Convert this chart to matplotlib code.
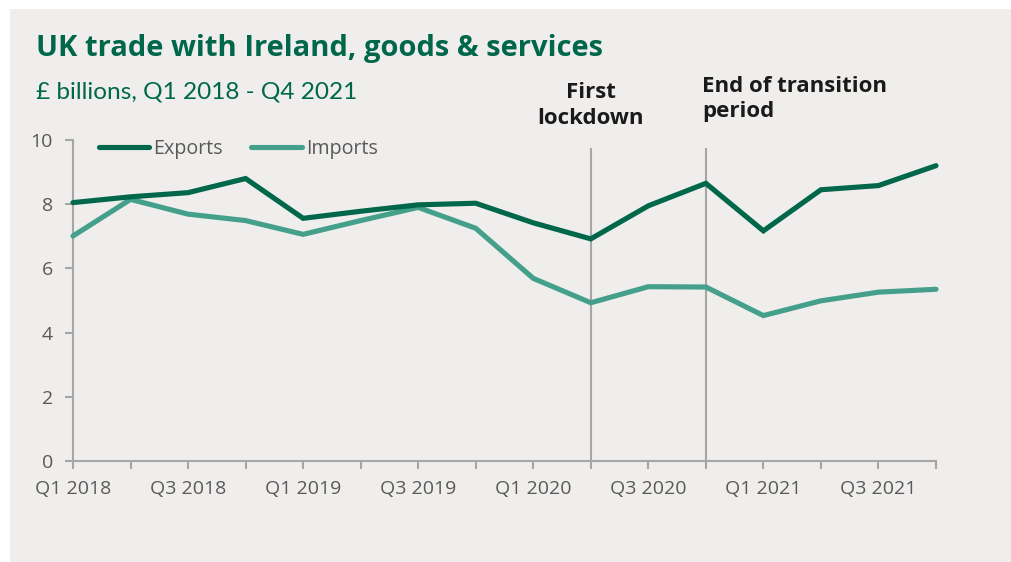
import matplotlib.pyplot as plt
from matplotlib.patches import Rectangle

# UK trade with Ireland, £ billions per quarter
quarters = ['Q1 2018', 'Q2 2018', 'Q3 2018', 'Q4 2018',
            'Q1 2019', 'Q2 2019', 'Q3 2019', 'Q4 2019',
            'Q1 2020', 'Q2 2020', 'Q3 2020', 'Q4 2020',
            'Q1 2021', 'Q2 2021', 'Q3 2021', 'Q4 2021']
exports = [8.05, 8.23, 8.36, 8.80, 7.56, 7.78, 7.98, 8.03,
           7.42, 6.92, 7.95, 8.65, 7.17, 8.45, 8.58, 9.20]
imports = [7.01, 8.15, 7.69, 7.49, 7.06, 7.49, 7.90, 7.25,
           5.69, 4.93, 5.43, 5.42, 4.53, 4.99, 5.26, 5.35]

dark_green = '#00674a'
light_green = '#44a08a'
grey_txt = '#595959'
grey_line = '#a6a6a6'
bg = '#efeeec'

plt.rcParams['font.family'] = ['Open Sans', 'DejaVu Sans']

fig = plt.figure(figsize=(10.11, 5.62), dpi=100)
fig.patch.set_facecolor('white')
fig.patches.append(Rectangle((10 / 1011, 0), 1, 1 - 9 / 562, transform=fig.transFigure,
                             facecolor=bg, edgecolor='none', zorder=-10))

ax = fig.add_axes([73 / 1011, 101 / 562, 863 / 1011, 321 / 562])
ax.set_facecolor('none')

x = list(range(len(quarters)))
ax.plot(x, exports, color=dark_green, lw=3.7, label='Exports', clip_on=False,
        solid_joinstyle='miter', solid_capstyle='round', zorder=4)
ax.plot(x, imports, color=light_green, lw=3.7, label='Imports', clip_on=False,
        solid_joinstyle='miter', solid_capstyle='round', zorder=3)

# event markers
lockdown = quarters.index('Q2 2020')
transition = quarters.index('Q4 2020')
ax.vlines([lockdown, transition], 0, 9.75, color=grey_line, lw=1.5, zorder=2)

ax.text(lockdown, 10.35, 'First\nlockdown', ha='center', va='bottom',
        fontsize=16, fontweight='bold', color='#1a1a1a', linespacing=1.3)
ax.text(transition - 0.07, 10.55, 'End of transition\nperiod', ha='left',
        va='bottom', fontsize=16, fontweight='bold', color='#1a1a1a', linespacing=1.3)

ax.set_xlim(0, len(quarters) - 1)
ax.set_ylim(0, 10)
ax.set_xticks(x)
ax.set_xticklabels([q if i % 2 == 0 else '' for i, q in enumerate(quarters)])
ax.set_yticks(range(0, 11, 2))

for s in ['top', 'right']:
    ax.spines[s].set_visible(False)
for s in ['left', 'bottom']:
    ax.spines[s].set_color(grey_line)
    ax.spines[s].set_linewidth(1.5)
ax.tick_params(axis='both', colors=grey_line, width=1.5, length=5.5, labelsize=14,
               labelcolor=grey_txt)
ax.tick_params(axis='x', pad=8.5)
ax.tick_params(axis='y', pad=9)

leg = ax.legend(loc='center left', bbox_to_anchor=(26 / 863, 1 - 9 / 321), ncol=2,
                frameon=False, fontsize=14.2, handlelength=2.55, handletextpad=0.2,
                columnspacing=1.45, borderaxespad=0, borderpad=0)
for t in leg.get_texts():
    t.set_color(grey_txt)
for h in leg.get_lines():
    h.set_solid_capstyle('round')

fig.text(36 / 1011, 1 - 56 / 562, 'UK trade with Ireland, goods & services',
         fontsize=21, fontweight='bold', color=dark_green)
fig.text(36 / 1011, 1 - 99 / 562, '£ billions, Q1 2018 - Q4 2021',
         fontsize=17.6, color=dark_green, family=['Lato', 'DejaVu Sans'])

fig.savefig('out.png', dpi=100)
